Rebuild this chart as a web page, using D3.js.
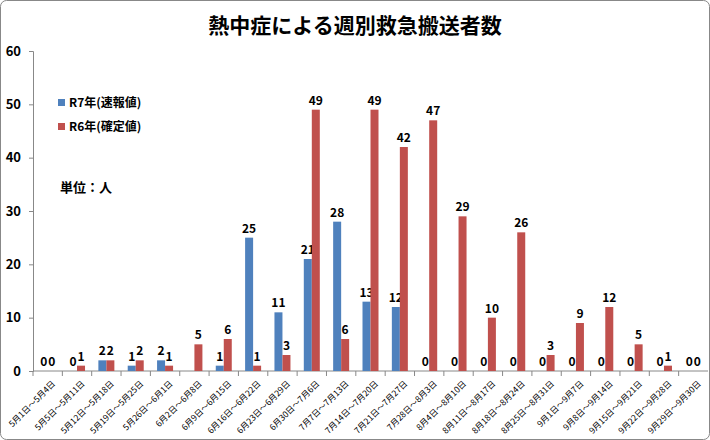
<!DOCTYPE html><html><head><meta charset="utf-8"><script src="https://cdn.jsdelivr.net/npm/d3@7"></script>
<style>body{margin:0;background:#fff}text{font-family:"Noto Sans CJK JP",sans-serif}</style></head><body><svg id="c" width="710" height="440"></svg><script>
const categories=["5月1日～5月4日","5月5日～5月11日","5月12日～5月18日","5月19日～5月25日","5月26日～6月1日","6月2日～6月8日","6月9日～6月15日","6月16日～6月22日","6月23日～6月29日","6月30日～7月6日","7月7日～7月13日","7月14日～7月20日","7月21日～7月27日","7月28日～8月3日","8月4日～8月10日","8月11日～8月17日","8月18日～8月24日","8月25日～8月31日","9月1日～9月7日","9月8日～9月14日","9月15日～9月21日","9月22日～9月28日","9月29日～9月30日"];
const r7=[0,0,2,1,2,null,1,25,11,21,28,13,12,0,0,0,0,0,0,0,0,0,0];
const r6=[0,1,2,2,1,5,6,1,3,49,6,49,42,47,29,10,26,3,9,12,5,1,0];
const yTicks=[0,10,20,30,40,50,60];
const svg=d3.select("#c");
svg.append("rect").attr("x",0.5).attr("y",0.5).attr("width",709).attr("height",439).attr("rx",6).attr("fill","#fff").attr("stroke","#888");
svg.append("text").attr("x",355).attr("y",33).attr("text-anchor","middle").attr("font-size",21).attr("font-weight","bold").text("熱中症による週別救急搬送者数");
const x=d3.scaleBand().domain(categories).range([33,708]);
const y=d3.scaleLinear().domain([0,60]).range([371,51]);
const bw=8;
svg.append("g").attr("transform","translate(33,0)").call(d3.axisLeft(y).tickValues(yTicks).tickSize(4).tickFormat(d3.format("d"))).call(g=>{g.select(".domain").attr("stroke","#888");g.selectAll("line").attr("stroke","#888");g.selectAll("text").attr("font-size",13).attr("font-weight","bold").attr("font-family","Liberation Sans").attr("x",-12)});
svg.append("line").attr("x1",33).attr("x2",708).attr("y1",371).attr("y2",371).attr("stroke","#888");
categories.forEach(c=>svg.append("line").attr("x1",x(c)).attr("x2",x(c)).attr("y1",371).attr("y2",376).attr("stroke","#888"));
function series(data,col,off){
 const g=svg.append("g");
 data.forEach((v,i)=>{if(v==null)return;const cx=x(categories[i])+x.bandwidth()/2+off;
  g.append("rect").attr("x",cx-bw/2).attr("y",y(v)).attr("width",bw).attr("height",y(0)-y(v)).attr("fill",col);
  g.append("text").attr("x",cx).attr("y",y(v)-5).attr("text-anchor","middle").attr("font-size",12).attr("font-weight","bold").attr("font-family","Liberation Sans").text(v);});
}
series(r7,"#4f81bd",-4);series(r6,"#c0504d",4);
categories.forEach(c=>{const cx=x(c)+x.bandwidth()/2+4;
 svg.append("text").attr("transform",`translate(${cx},380) rotate(-45)`).attr("text-anchor","end").attr("dy","0.7em").attr("font-size",8.5).text(c);});
[["R7年(速報値)","#4f81bd",103],["R6年(確定値)","#c0504d",127]].forEach(([t,c,yy])=>{
 svg.append("rect").attr("x",58).attr("y",yy-4).attr("width",7).attr("height",7).attr("fill",c);
 svg.append("text").attr("x",69).attr("y",yy+4).attr("font-size",12).attr("font-weight","bold").text(t);});
svg.append("text").attr("x",60).attr("y",192).attr("font-size",13).attr("font-weight","bold").text("単位：人");
</script></body></html>
